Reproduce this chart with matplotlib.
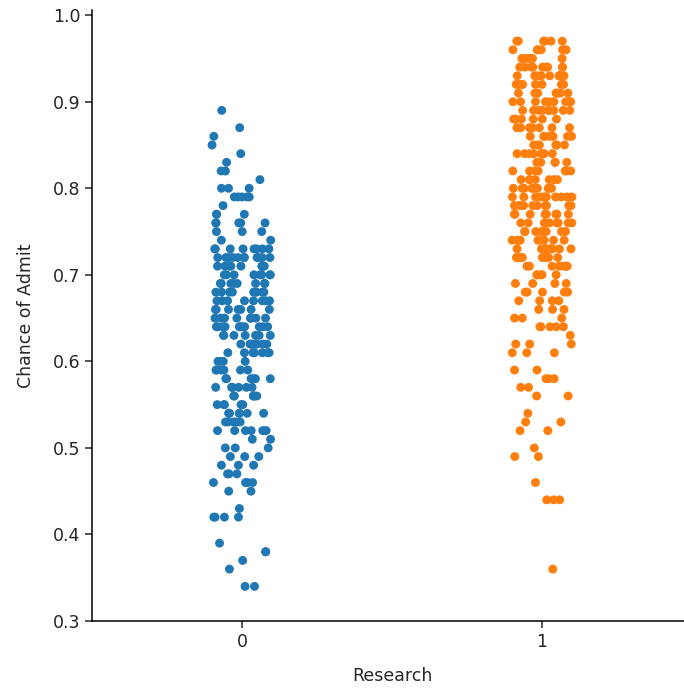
import matplotlib
matplotlib.use("Agg")
import matplotlib.pyplot as plt
import numpy as np
import pandas as pd
import seaborn as sns

levels_0 = [0.34, 0.36, 0.37, 0.38, 0.39, 0.42, 0.43, 0.45, 0.46, 0.47, 0.48,
            0.49, 0.50, 0.51, 0.52, 0.53, 0.54, 0.55, 0.56, 0.57, 0.58, 0.59,
            0.60, 0.61, 0.62, 0.63, 0.64, 0.65, 0.66, 0.67, 0.68, 0.69, 0.70,
            0.71, 0.72, 0.73, 0.74, 0.75, 0.76, 0.77, 0.78, 0.79, 0.80, 0.81,
            0.82, 0.83, 0.84, 0.85, 0.86, 0.87, 0.89]
counts_0 = [2, 1, 1, 2, 1, 4, 1, 2, 4, 3, 3,
            3, 3, 2, 6, 5, 7, 5, 6, 6, 6, 6,
            4, 7, 7, 7, 11, 8, 7, 8, 9, 8, 8,
            9, 11, 8, 2, 3, 5, 3, 1, 5, 3, 1,
            2, 1, 1, 1, 1, 1, 1]

levels_1 = [0.36, 0.44, 0.46, 0.49, 0.50, 0.52, 0.53, 0.54, 0.56, 0.57, 0.58,
            0.59, 0.61, 0.62, 0.63, 0.64, 0.65, 0.66, 0.67, 0.68, 0.69, 0.70,
            0.71, 0.72, 0.73, 0.74, 0.75, 0.76, 0.77, 0.78, 0.79, 0.80, 0.81,
            0.82, 0.83, 0.84, 0.85, 0.86, 0.87, 0.88, 0.89, 0.90, 0.91, 0.92,
            0.93, 0.94, 0.95, 0.96, 0.97]
counts_1 = [1, 3, 1, 2, 1, 2, 2, 1, 2, 2, 3,
            2, 3, 3, 1, 5, 3, 3, 4, 5, 4, 5,
            8, 9, 10, 9, 8, 9, 9, 11, 11, 10, 7,
            7, 5, 9, 7, 7, 7, 6, 9, 9, 8, 8,
            9, 9, 7, 7, 7]

research = [0, 1]

df = pd.DataFrame({
    "Research": np.concatenate([np.repeat(research[0], sum(counts_0)),
                                np.repeat(research[1], sum(counts_1))]),
    "Chance of Admit": np.concatenate([np.repeat(levels_0, counts_0),
                                       np.repeat(levels_1, counts_1)]),
})

fs = 12.5
plt.rcParams["font.family"] = ["DejaVu Sans"]

fig = plt.figure(figsize=(6.84, 6.89), dpi=100)
ax = fig.add_axes([92 / 684, 68 / 689, 600 / 684, 611 / 689])

np.random.seed(3)
sns.stripplot(data=df, x="Research", y="Chance of Admit", hue="Research",
              palette=["#1f77b4", "#ff7f0e"], jitter=0.1, size=6.4,
              linewidth=0, legend=False, ax=ax)

ax.set_xlim(-0.5, 1.5)
ax.set_ylim(0.3, 1.006)
ax.set_yticks([0.3, 0.4, 0.5, 0.6, 0.7, 0.8, 0.9, 1.0])
ax.set_yticklabels(["0.3", "0.4", "0.5", "0.6", "0.7", "0.8", "0.9", "1.0"])

for side in ["top", "right"]:
    ax.spines[side].set_visible(False)
for side in ["left", "bottom"]:
    ax.spines[side].set_linewidth(1.1)
ax.tick_params(labelsize=fs, length=4.8, width=1.1, colors="#262626",
               labelcolor="#262626")
ax.set_xlabel("Research", fontsize=fs, color="#262626", labelpad=12)
ax.set_ylabel("Chance of Admit", fontsize=fs, color="#262626", labelpad=13)

fig.savefig("out.png", dpi=100)
